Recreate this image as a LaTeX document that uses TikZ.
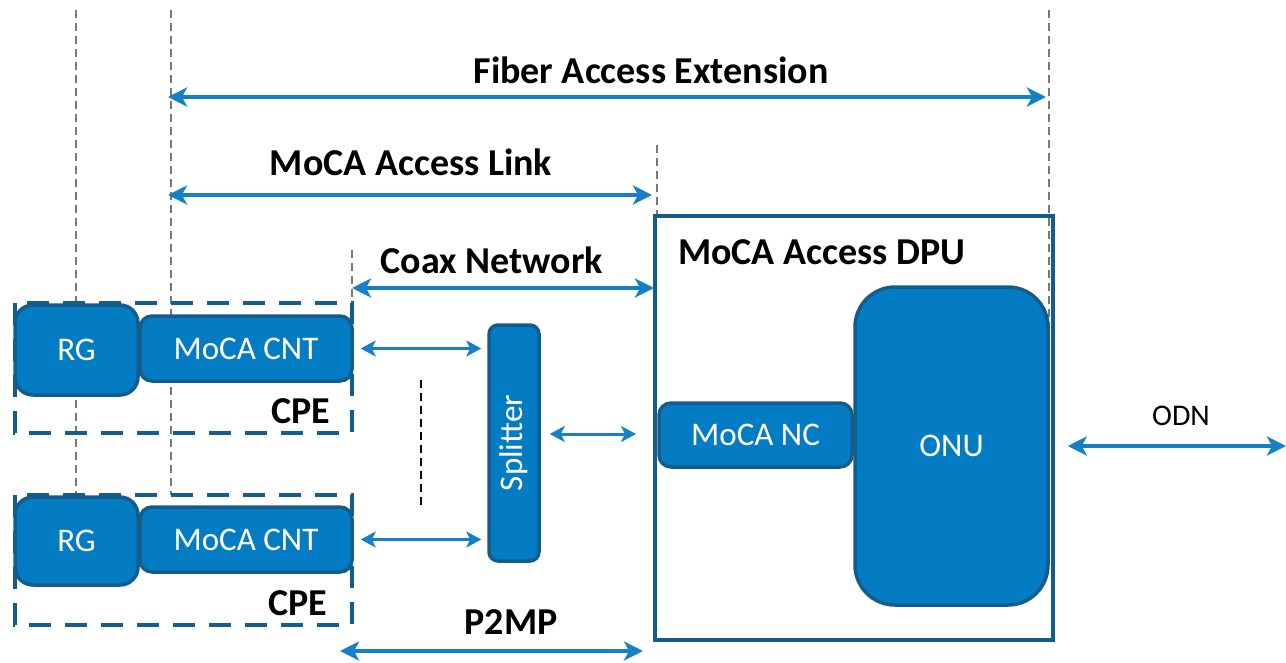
\documentclass[tikz,border=0pt]{standalone}
\usepackage{fontspec}
\setmainfont{Carlito}
\usepackage{xcolor}
\usetikzlibrary{arrows.meta}
\usetikzlibrary{positioning}

\definecolor{mocafill}{RGB}{4,124,196}
\definecolor{mocaedge}{RGB}{20,92,140}
\definecolor{arrowblue}{RGB}{22,128,198}
\definecolor{guidegray}{RGB}{120,120,120}

\tikzset{
    blk/.style={draw=mocaedge, line width=3.5pt, fill=mocafill, text=white, inner sep=0pt,
        font=\fontsize{33}{35}\selectfont},
    lbl/.style={text=black, inner sep=0pt, font=\bfseries\fontsize{38}{40}\selectfont},
    bigarrow/.style={draw=arrowblue, line width=4.5pt, {Stealth[length=19pt,width=19pt,inset=5pt]}-{Stealth[length=19pt,width=19pt,inset=5pt]}},
    smallarrow/.style={draw=arrowblue, line width=3pt, {Stealth[length=15pt,width=16pt,inset=4pt]}-{Stealth[length=15pt,width=16pt,inset=4pt]}},
    cpebox/.style={draw=mocaedge, line width=4.5pt, dash pattern=on 22pt off 14pt},
    guide/.style={draw=guidegray, line width=1.2pt, dash pattern=on 8pt off 5pt}
}

\begin{document}
\begin{tikzpicture}[x=1pt,y=1pt,yscale=-1]
            \useasboundingbox (0,0) rectangle (1286,662);
            %guide lines
            \foreach \x/\ya/\yb in {76/10/500, 171/10/495, 657/145/216, 1049/10/340, 352/250/302} {
                \draw [guide] (\x, \ya) -- (\x, \yb);
            }
            \draw [guide, draw=black] (421, 380) -- (421, 505);
            %
            %CPE boxes
            \draw [cpebox] (15, 303) rectangle (352, 433);
            \draw [cpebox] (15, 495) rectangle (352, 625);
            \node [lbl] (cpe1) at (301, 411) {CPE};
            \node [lbl] (cpe2) at (298, 603) {CPE};
            %
            %RG and MoCA CNT
            \node [blk, rounded corners=18pt, minimum width=123pt, minimum height=90pt] (rg1) at (76.5, 350) {RG};
            \node [blk, rounded corners=12pt, minimum width=212pt, minimum height=65pt] (cnt1) at (246, 348.5) {MoCA CNT};
            \node [blk, rounded corners=18pt, minimum width=123pt, minimum height=88pt] (rg2) at (76.5, 541) {RG};
            \node [blk, rounded corners=12pt, minimum width=212pt, minimum height=65pt] (cnt2) at (246, 539.5) {MoCA CNT};
            %
            %splitter
            \node [blk, rounded corners=9pt, minimum width=50pt, minimum height=236pt] (spl) at (514, 443) {};
            \node [rotate=90, text=white, font=\fontsize{33}{35}\selectfont] (spl-lbl) at (spl.center) {Splitter};
            %
            %DPU
            \node [draw=mocaedge, line width=3.5pt, minimum width=398pt, minimum height=424pt, inner sep=0pt] (dpu) at (854, 428) {};
            \node [lbl, anchor=west] (dpu-lbl) at (678, 252) {MoCA Access DPU};
            \node [blk, rounded corners=12pt, minimum width=193pt, minimum height=64pt] (nc) at (755.5, 435) {MoCA NC};
            \node [blk, rounded corners=40pt, minimum width=193pt, minimum height=318pt] (onu) at (951.5, 446) {ONU};
            %
            %spans
            \coordinate (fae-l) at (168, 97);
            \coordinate (fae-r) at (1046, 97);
            \coordinate (mal-l) at (168, 195);
            \coordinate (mal-r) at (652, 195);
            \coordinate (coax-l) at (352, 288);
            \coordinate (coax-r) at (654, 288);
            \coordinate (p2mp-l) at (340, 651);
            \coordinate (p2mp-r) at (643, 651);
            \coordinate (odn-r) at (1286, 446);
            \coordinate (spl-r) at (636, 434);
            \node [lbl] (fae-lbl) at (651, 70) {Fiber Access Extension};
            \node [lbl] (mal-lbl) at (411, 162) {MoCA Access Link};
            \node [lbl] (coax-lbl) at (492, 260) {Coax Network};
            \node [lbl] (p2mp-lbl) at (511, 622) {P2MP};
            \node [font=\fontsize{30}{32}\selectfont] (odn-lbl) at (1181, 416) {ODN};
            \draw [bigarrow] (fae-l) -- (fae-r);
            \draw [bigarrow] (mal-l) -- (mal-r);
            \draw [bigarrow] (coax-l) -- (coax-r);
            \draw [bigarrow] (p2mp-l) -- (p2mp-r);
            \draw [bigarrow, shorten <=18pt] (onu.east) -- (odn-r);
            %
            %links to splitter
            \draw [smallarrow, shorten <=7pt, shorten >=6pt] (cnt1.east) -- (cnt1.east -| spl.west);
            \draw [smallarrow, shorten <=7pt, shorten >=6pt] (cnt2.east) -- (cnt2.east -| spl.west);
            \draw [smallarrow, shorten <=9pt] (spl.east |- spl-r) -- (spl-r);
            %
        \end{tikzpicture}
\end{document}
